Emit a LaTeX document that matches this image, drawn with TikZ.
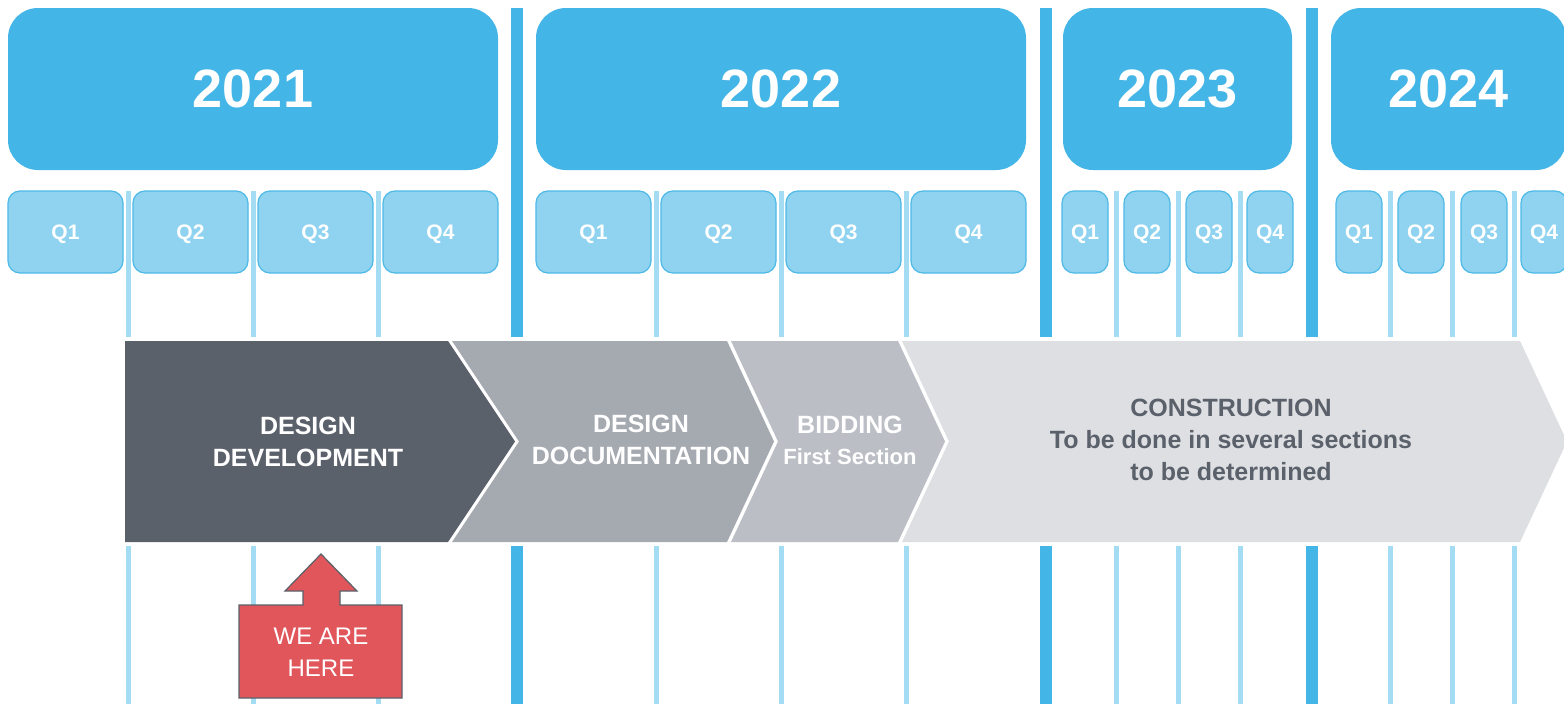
\documentclass[tikz,border=0pt]{standalone}
\usepackage{fontspec}
\setmainfont{Liberation Sans}
\definecolor{yearblue}{HTML}{43B5E6}
\definecolor{qfill}{HTML}{8FD3F0}
\definecolor{qborder}{HTML}{4DB9E7}
\definecolor{thinline}{HTML}{A3DCF3}
\definecolor{ddgray}{HTML}{5B616B}
\definecolor{docgray}{HTML}{A5A9B0}
\definecolor{bidgray}{HTML}{BBBEC5}
\definecolor{consgray}{HTML}{DEDFE3}
\definecolor{herered}{HTML}{E0565B}
\begin{document}
\begin{tikzpicture}[x=1pt,y=-1pt,
  yearbox/.style={fill=yearblue, rounded corners=30pt, minimum height=162pt, inner sep=0pt,
    text=white, font=\fontsize{54}{60}\selectfont\bfseries},
  qbox/.style={fill=qfill, draw=qborder, line width=1.2pt, rounded corners=12pt, minimum height=82pt,
    inner sep=0pt, text depth=0pt, text=white, font=\fontsize{21}{24}\selectfont\bfseries},
  thinbar/.style={draw=thinline, line width=5pt},
  thickbar/.style={draw=yearblue, line width=12pt},
  phase/.style={align=center, inner sep=0pt, font=\fontsize{25}{32}\selectfont\bfseries},
  sep/.style={draw=white, line width=3pt, line join=miter}
]
\useasboundingbox (0,0) rectangle (1564,704);
\fill[white] (0,0) rectangle (1564,704);

% vertical bars
\foreach \x in {517,1046,1311.5}{
  \draw[thickbar] (\x,8) -- (\x,337);
  \draw[thickbar] (\x,546) -- (\x,704);
}
\foreach \x in {128,253,378,656,781,906,1116,1178,1240,1390,1452,1514}{
  \draw[thinbar] (\x,191) -- (\x,337);
  \draw[thinbar] (\x,546) -- (\x,704);
}

% year boxes
\node[yearbox, minimum width=490pt] (y2021) at (253,89) {2021};
\node[yearbox, minimum width=490pt] (y2022) at (781,89) {2022};
\node[yearbox, minimum width=229pt] (y2023) at (1177.5,89) {2023};
\node[yearbox, minimum width=235pt] (y2024) at (1448.5,89) {2024};

% quarter boxes
\foreach \x/\q [count=\i] in {65.5/Q1,190.5/Q2,315.5/Q3,440.5/Q4}
  \node[qbox, minimum width=115pt] (qa\i) at (\x,232) {\q};
\foreach \x/\q [count=\i] in {593.5/Q1,718.5/Q2,843.5/Q3,968.5/Q4}
  \node[qbox, minimum width=115pt] (qb\i) at (\x,232) {\q};
\foreach \x/\q [count=\i] in {1085/Q1,1147/Q2,1209/Q3,1270/Q4}
  \node[qbox, minimum width=46pt] (qc\i) at (\x,232) {\q};
\foreach \x/\q [count=\i] in {1359/Q1,1421/Q2,1484/Q3,1544/Q4}
  \node[qbox, minimum width=46pt] (qd\i) at (\x,232) {\q};

% chevrons
\fill[consgray] (902,341) -- (1520,341) -- (1567,441.5) -- (1520,542) -- (902,542) -- (949,441.5) -- cycle;
\fill[bidgray] (731,341) -- (898,341) -- (945,441.5) -- (898,542) -- (731,542) -- (778,441.5) -- cycle;
\fill[docgray] (452,341) -- (727,341) -- (774,441.5) -- (727,542) -- (452,542) -- (519,441.5) -- cycle;
\fill[ddgray] (125,341) -- (448,341) -- (515,441.5) -- (448,542) -- (125,542) -- cycle;

\node[phase, text=white] (dd) at (308,442) {DESIGN\\DEVELOPMENT};
\node[phase, text=white] (doc) at (641,440) {DESIGN\\DOCUMENTATION};
\node[phase, text=white] (bid) at (850,425) {BIDDING};
\node[inner sep=0pt, text=white, font=\fontsize{22}{26}\selectfont\bfseries] (bidsub) at (850,457) {First Section};
\node[phase, text=ddgray] (cons) at (1231,440) {CONSTRUCTION\\To be done in several sections\\to be determined};

% we are here marker
\filldraw[fill=herered, draw=ddgray, line width=1.2pt]
  (321,554) -- (357,591) -- (340,591) -- (340,605) -- (402,605) -- (402,698)
  -- (239,698) -- (239,605) -- (303,605) -- (303,591) -- (285,591) -- cycle;
\node[align=center, inner sep=0pt, text=white, font=\fontsize{24}{32}\selectfont] (here) at (321,652) {WE ARE\\HERE};
\end{tikzpicture}
\end{document}
